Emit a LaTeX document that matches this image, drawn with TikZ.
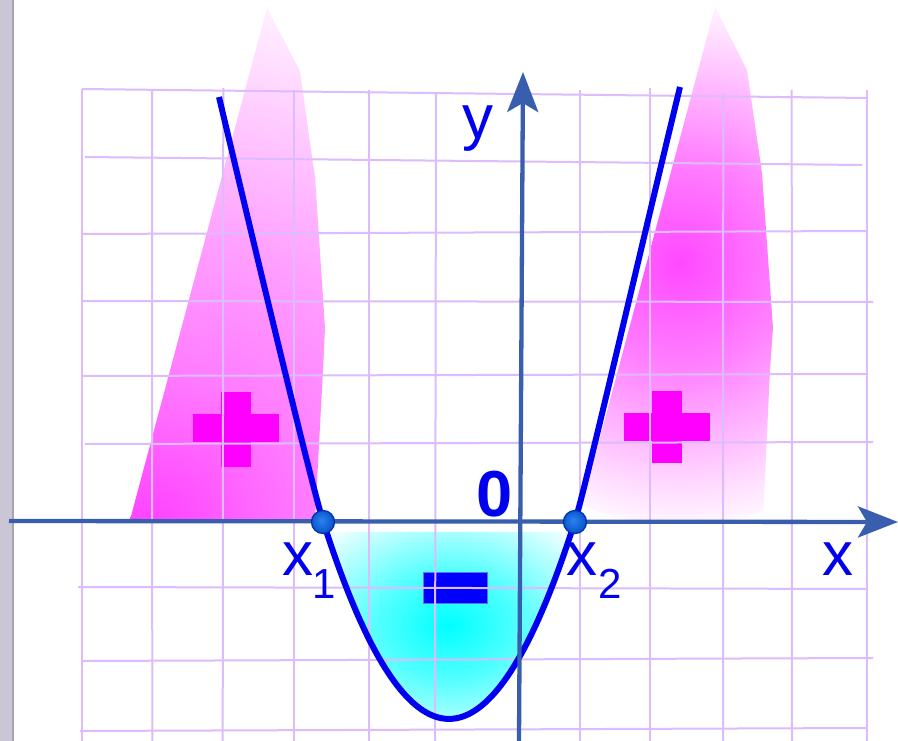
\documentclass[tikz,border=0pt]{standalone}
\usepackage{fontspec}
\setmainfont{Liberation Sans}
\usetikzlibrary{arrows.meta}
\definecolor{gridc}{HTML}{DCBCFC}
\definecolor{axisc}{HTML}{3A5EAE}
\definecolor{curvec}{HTML}{0000F0}
\definecolor{labelc}{HTML}{0000EE}
\definecolor{plusc}{HTML}{FF00FF}
\definecolor{minusc}{HTML}{0000FF}
\definecolor{minusb}{HTML}{5577FF}
\definecolor{barc}{HTML}{CAC6D6}
\definecolor{bard}{HTML}{A8A4AE}
\definecolor{lp1}{HTML}{FF40FF}
\definecolor{lp2}{HTML}{FF7CFF}
\definecolor{lp3}{HTML}{FFA0FF}
\definecolor{lp4}{HTML}{FFC4FF}
\definecolor{lp5}{HTML}{FFF2FF}
\definecolor{rp1}{HTML}{FF48FF}
\definecolor{rp2}{HTML}{FF80FF}
\definecolor{rp3}{HTML}{FFB8FF}
\definecolor{rp4}{HTML}{FFD8FF}
\definecolor{rp5}{HTML}{FFF6FF}
\definecolor{cy1}{HTML}{00FFFF}
\definecolor{cy2}{HTML}{50FFFF}
\definecolor{cy3}{HTML}{A8FFFF}
\definecolor{cy4}{HTML}{FFFFFF}
\definecolor{dot1}{HTML}{2C82F0}
\definecolor{dot2}{HTML}{0A56CC}
\definecolor{dotb}{HTML}{0033AA}
\pgfdeclareradialshading{lpink}{\pgfpoint{0bp}{0bp}}{color(0bp)=(lp1); color(7.5bp)=(lp2); color(13.75bp)=(lp3); color(18.75bp)=(lp4); color(25bp)=(lp5); color(50bp)=(lp5)}
\pgfdeclareradialshading{rpink}{\pgfpoint{0bp}{0bp}}{color(0bp)=(rp1); color(10bp)=(rp2); color(17bp)=(rp3); color(21bp)=(rp4); color(25bp)=(rp5); color(50bp)=(rp5)}
\pgfdeclareradialshading{cyrad}{\pgfpoint{0bp}{0bp}}{color(0bp)=(cy1); color(14bp)=(cy2); color(25bp)=(cy3); color(36bp)=(cy4); color(50bp)=(cy4)}
\pgfdeclareradialshading{dotrad}{\pgfpoint{-4bp}{4bp}}{color(0bp)=(dot1); color(25bp)=(dot2); color(50bp)=(dot2)}
\tikzset{
  gridline/.style={draw=gridc, line width=2pt},
  axisline/.style={draw=axisc, line width=4.3pt, -{Stealth[length=40pt, width=31pt, inset=9pt]}},
  curveline/.style={draw=curvec, line width=6pt, line join=round},
  rootdot/.style={circle, minimum size=23pt, inner sep=0pt, shading=dotrad, draw=dotb, line width=1.3pt},
  biglabel/.style={text=labelc, inner sep=0pt, outer sep=0pt, anchor=base west, font=\fontsize{62}{62}\selectfont},
  sublabel/.style={text=labelc, inner sep=0pt, outer sep=0pt, anchor=base west, font=\fontsize{42}{42}\selectfont},
}
\begin{document}
\begin{tikzpicture}[x=1pt, y=-1pt]
\useasboundingbox (0,0) rectangle (898,741);
\fill[white] (0,0) rectangle (898,741);
% left bar
\fill[barc] (0,0) rectangle (12,741);
\fill[bard] (12,0) rectangle (14,741);
% pink regions
\begin{scope}
  \clip (130,520) -- (267,8) -- (300,71) -- (312,157) -- (315,177) -- (325,328) -- (323,370) -- (315,520) -- cycle;
  \shade[shading=lpink] (150,530) circle (540);
\end{scope}
\begin{scope}
  \clip (578,520) -- (715,7) -- (747,70) -- (762,173) -- (773,328) -- (770,370) -- (763,520) -- cycle;
  \shade[shading=rpink] (680,263) circle (262);
\end{scope}
% cyan region
\shade[shading=cyrad] plot[domain=326.55:571.45, samples=80] (\x, {521+0.01247*(\x-323)*(575-\x)}) -- cycle;
% plus and minus signs
\fill[plusc] (193,414) rectangle (279,442);
\fill[plusc] (221,392) rectangle (251,467);
\fill[plusc] (624,413) rectangle (710,441);
\fill[plusc] (652,391) rectangle (682,463);
\filldraw[fill=minusc, draw=minusb, line width=0.8pt] (423,572) rectangle (487,603);
% grid
\draw[gridline] (82,89) -- (82,741);
\draw[gridline] (152,90) -- (152.3,741);
\draw[gridline] (223.3,88) -- (222.7,741);
\draw[gridline] (294,90) -- (294,741);
\draw[gridline] (369,90) -- (369,741);
\draw[gridline] (436,93) -- (435,741);
\draw[gridline] (580,90) -- (580,741);
\draw[gridline] (650,88) -- (650,741);
\draw[gridline] (723.3,93) -- (723,741);
\draw[gridline] (791.7,90) -- (792,741);
\draw[gridline] (866.7,90) -- (866.7,741);
\draw[gridline] (82,89) -- (867,98);
\draw[gridline] (85,157) -- (862,165);
\draw[gridline] (82,234) -- (867,231);
\draw[gridline] (82,301) -- (873,302);
\draw[gridline] (82,376) -- (868,374);
\draw[gridline] (85,444) -- (873,442);
\draw[gridline] (78,587) -- (868,589);
\draw[gridline] (82,661) -- (873,658);
\draw[gridline] (80,731) -- (868,728);
% parabola
\draw[curveline] (219,97) .. controls (260,270) and (313,490) .. (323,521)
  -- plot[domain=323:575, samples=90] (\x, {521+0.01247*(\x-323)*(575-\x)})
  .. controls (585,490) and (638,260) .. (680,87);
% axes
\coordinate (xs) at (9,521);
\coordinate (xe) at (898,522);
\coordinate (ys) at (519,741);
\coordinate (ye) at (523,72);
\draw[axisline] (xs) -- (xe);
\draw[axisline] (ys) -- (ye);
% root points
\node[rootdot] (r1) at (323,522) {};
\node[rootdot] (r2) at (575,522) {};
% labels
\node[biglabel] (ylab) at (462,139) {y};
\node[biglabel] (xlab) at (822,575) {x};
\node[biglabel, font=\fontsize{65}{65}\selectfont\bfseries] (zero) at (476,516) {0};
\node[biglabel] (x1a) at (282,575) {x};
\node[sublabel] (x1b) at (312,598) {1};
\node[biglabel] (x2a) at (566,575) {x};
\node[sublabel] (x2b) at (598,598) {2};
\end{tikzpicture}
\end{document}
